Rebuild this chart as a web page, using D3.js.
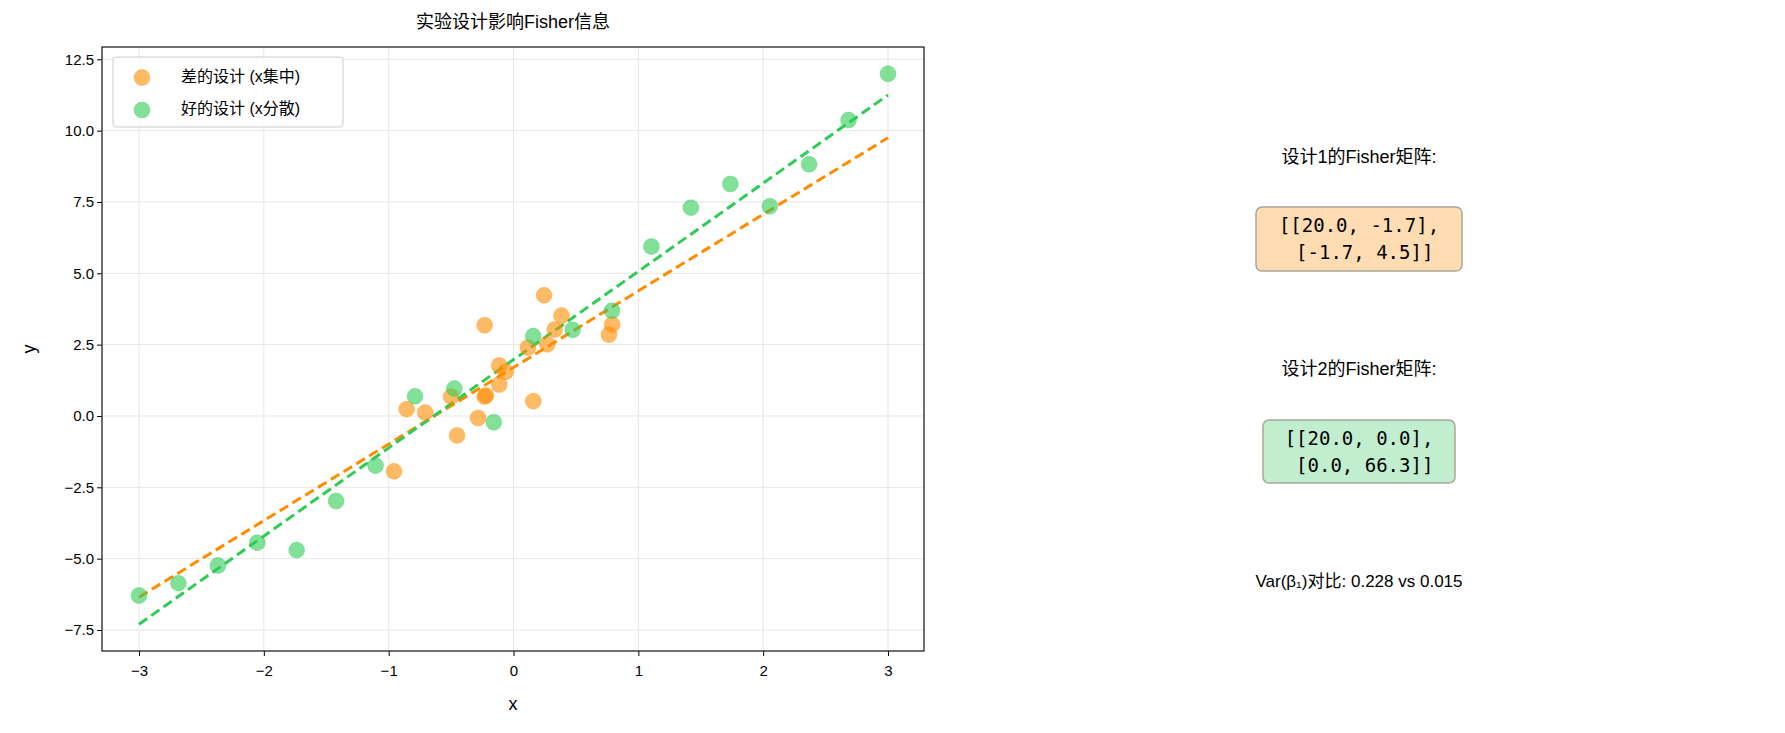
<!DOCTYPE html>
<html><head><meta charset="utf-8">
<script src="https://cdn.jsdelivr.net/npm/d3@7"></script>
<style>body{margin:0;background:#fff}text{font-family:Arial,"Liberation Sans","Noto Sans CJK SC",sans-serif}</style>
</head><body><svg id="c" width="1785" height="733"></svg>
<script>
const goodX=[-3,-2.684,-2.368,-2.053,-1.737,-1.421,-1.105,-0.789,-0.474,-0.158,0.158,0.474,0.789,1.105,1.421,1.737,2.053,2.368,2.684,3];
const goodY=[-6.29,-5.86,-5.24,-4.44,-4.70,-2.98,-1.74,0.69,0.96,-0.22,2.80,3.02,3.69,5.94,7.30,8.13,7.35,8.82,10.37,11.99];
const badX=[-0.856,-0.707,-0.957,-0.50,-0.452,-0.231,-0.231,-0.22,-0.284,-0.115,-0.115,-0.062,0.159,0.115,0.245,0.27,0.33,0.385,0.765,0.79];
const badY=[0.24,0.12,-1.94,0.68,-0.68,3.18,0.68,0.72,-0.07,1.77,1.10,1.55,0.52,2.40,4.23,2.51,3.03,3.52,2.85,3.21];
const badLine=[[-3,-6.35],[3,9.75]];
const goodLine=[[-3,-7.3],[3,11.25]];
const xTicks=[-3,-2,-1,0,1,2,3];
const yTicks=[-7.5,-5,-2.5,0,2.5,5,7.5,10,12.5];
const orange="#ff8c00", green="#2ecc55";
const svg=d3.select("#c");
const L=102,R=924,T=47,B=651;
const x=d3.scaleLinear().domain([-3,3]).range([139,888]);
const y=d3.scaleLinear().domain([-7.5,12.5]).range([630,59.3]);
const g=svg.append("g");
g.selectAll(".gx").data(xTicks).enter().append("line").attr("x1",d=>x(d)).attr("x2",d=>x(d)).attr("y1",T).attr("y2",B).attr("stroke","#e6e6e6");
g.selectAll(".gy").data(yTicks).enter().append("line").attr("y1",d=>y(d)).attr("y2",d=>y(d)).attr("x1",L).attr("x2",R).attr("stroke","#e6e6e6");
const xa=svg.append("g").attr("transform",`translate(0,${B})`).call(d3.axisBottom(x).tickValues(xTicks).tickFormat(d3.format("d")).tickSize(5).tickSizeOuter(0));
const ya=svg.append("g").attr("transform",`translate(${L},0)`).call(d3.axisLeft(y).tickValues(yTicks).tickFormat(d3.format(".1f")).tickSize(5).tickSizeOuter(0));
[xa,ya].forEach(a=>{a.select(".domain").remove();a.selectAll("text").attr("font-size",15).attr("fill","#000").style("font-family","Arial");});
xa.selectAll("text").attr("dy","1.1em");
const line=d3.line().x(d=>x(d[0])).y(d=>y(d[1]));
svg.append("path").attr("d",line(badLine)).attr("stroke",orange).attr("stroke-width",3).attr("stroke-dasharray","10,5").attr("fill","none");
svg.append("path").attr("d",line(goodLine)).attr("stroke",green).attr("stroke-width",3).attr("stroke-dasharray","10,5").attr("fill","none");
svg.append("g").selectAll("circle").data(badX.map((v,i)=>[v,badY[i]])).enter().append("circle")
 .attr("cx",d=>x(d[0])).attr("cy",d=>y(d[1])).attr("r",8).attr("fill",orange).attr("fill-opacity",0.6).attr("stroke",orange).attr("stroke-opacity",0.3);
svg.append("g").selectAll("circle").data(goodX.map((v,i)=>[v,goodY[i]])).enter().append("circle")
 .attr("cx",d=>x(d[0])).attr("cy",d=>y(d[1])).attr("r",8).attr("fill",green).attr("fill-opacity",0.6).attr("stroke",green).attr("stroke-opacity",0.3);
svg.append("rect").attr("x",L).attr("y",T).attr("width",R-L).attr("height",B-T).attr("fill","none").attr("stroke","#222").attr("stroke-width",1.3);
svg.append("text").attr("x",(L+R)/2).attr("y",23).attr("text-anchor","middle").attr("dominant-baseline","middle").attr("font-size",18).text("实验设计影响Fisher信息");
svg.append("text").attr("x",(L+R)/2).attr("y",705).attr("text-anchor","middle").attr("dominant-baseline","middle").attr("font-size",18).text("x");
svg.append("text").attr("transform",`translate(30,${(T+B)/2}) rotate(-90)`).attr("text-anchor","middle").attr("dominant-baseline","middle").attr("font-size",18).text("y");
// legend
const lg=svg.append("g");
lg.append("rect").attr("x",113).attr("y",57).attr("width",230).attr("height",70).attr("rx",3).attr("fill","#fff").attr("fill-opacity",0.8).attr("stroke","#ccc");
[["差的设计 (x集中)",orange,77.5],["好的设计 (x分散)",green,110]].forEach(([t,c,yy])=>{
 lg.append("circle").attr("cx",142).attr("cy",yy).attr("r",8).attr("fill",c).attr("fill-opacity",0.6).attr("stroke",c).attr("stroke-opacity",0.3);
 lg.append("text").attr("x",181).attr("y",yy).attr("dominant-baseline","middle").attr("font-size",16).text(t);
});
// right panel
const cx=1359;
const panels=[
 {title:"设计1的Fisher矩阵:",ty:158,lines:["[[20.0, -1.7],"," [-1.7, 4.5]]"],box:[1256,207,206,64],fill:"#ffdcb1"},
 {title:"设计2的Fisher矩阵:",ty:370,lines:["[[20.0, 0.0],"," [0.0, 66.3]]"],box:[1263,420,192,63],fill:"#c1eecf"}];
panels.forEach(p=>{
 svg.append("text").attr("x",cx).attr("y",p.ty).attr("text-anchor","middle").attr("dominant-baseline","middle").attr("font-size",18).text(p.title);
 svg.append("rect").attr("x",p.box[0]).attr("y",p.box[1]).attr("width",p.box[2]).attr("height",p.box[3]).attr("rx",6).attr("fill",p.fill).attr("stroke","#a8a898").attr("stroke-width",1.5);
 p.lines.forEach((l,i)=>svg.append("text").attr("x",cx).attr("y",p.box[1]+25+i*27).attr("text-anchor","middle").attr("font-size",19).style("font-family","DejaVu Sans Mono").style("white-space","pre").text(l));
});
svg.append("text").attr("x",cx).attr("y",583).attr("text-anchor","middle").attr("dominant-baseline","middle").attr("font-size",17).text("Var(β₁)对比: 0.228 vs 0.015");
</script></body></html>
